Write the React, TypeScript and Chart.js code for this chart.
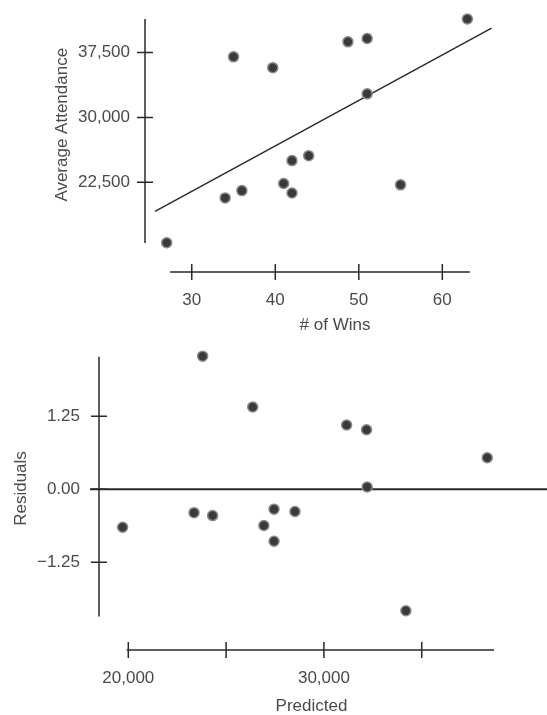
import React, { useEffect, useRef } from 'react';
import { Chart, registerables } from 'chart.js';

Chart.register(...registerables);

// ---- Top chart: Average Attendance vs # of Wins ----
const winsX = [27, 35, 34, 36, 39.7, 41, 42, 42, 44, 48.7, 51, 51, 55, 63];
const attendanceY = [15490, 37010, 20680, 21520, 35760, 22350, 25000, 21250, 25570, 38750, 39130, 32730, 22190, 41400];
const fitLineX = [25.6, 65.9];
const fitLineY = [19125, 40341];
const attendanceTicks = [22500, 30000, 37500];
const attendanceTickLabels = ['22,500', '30,000', '37,500'];
const winsTicks = [30, 40, 50, 60];
const winsTickLabels = ['30', '40', '50', '60'];

// ---- Bottom chart: Residuals vs Predicted ----
const predictedX = [23800, 26360, 31160, 32180, 38350, 32210, 19710, 23360, 24310, 26930, 27450, 27450, 28520, 34190];
const residualY = [2.28, 1.41, 1.1, 1.02, 0.54, 0.04, -0.65, -0.4, -0.45, -0.62, -0.34, -0.89, -0.38, -2.08];
const residualTicks = [-1.25, 0, 1.25];
const residualTickLabels = ['\u22121.25', '0.00', '1.25'];
const predictedTicks = [20000, 25000, 30000, 35000];
const predictedTickLabels = ['20,000', '', '30,000', ''];

const FONT = { family: "'Liberation Sans', Arial, sans-serif", size: 17 };
const TEXT = '#4a4a4a';
const INK = '#2a2a2a';

const detachedAxes = {
  id: 'detachedAxes',
  beforeDatasetsDraw(chart: any, _args: any, opts: any) {
    const { ctx, chartArea, scales } = chart;
    const x = scales.x;
    const y = scales.y;
    ctx.save();
    ctx.strokeStyle = INK;
    ctx.lineWidth = 1.5;
    ctx.beginPath();
    const ax = chartArea.left;
    ctx.moveTo(ax, y.getPixelForValue(opts.yFrom));
    ctx.lineTo(ax, y.getPixelForValue(opts.yTo));
    y.ticks.forEach((t: any) => {
      const py = y.getPixelForValue(t.value);
      ctx.moveTo(ax - 8, py);
      ctx.lineTo(ax + 8, py);
    });
    const ay = chartArea.bottom + opts.xGap;
    ctx.moveTo(x.getPixelForValue(opts.xFrom), ay);
    ctx.lineTo(x.getPixelForValue(opts.xTo), ay);
    x.ticks.forEach((t: any) => {
      const px = x.getPixelForValue(t.value);
      ctx.moveTo(px, ay - 8);
      ctx.lineTo(px, ay + 8);
    });
    ctx.stroke();
    if (opts.zeroLine) {
      const pz = y.getPixelForValue(0);
      ctx.beginPath();
      ctx.lineWidth = 2;
      ctx.moveTo(ax - 9, pz);
      ctx.lineTo(chart.width, pz);
      ctx.stroke();
    }
    ctx.restore();
  },
};

const pointStyle = {
  backgroundColor: '#3a3a3a',
  borderColor: '#8a8a8a',
  borderWidth: 1.5,
  pointRadius: 5,
  pointHoverRadius: 5,
};

function axisCommon(ticks: number[], labels: string[], padding: number, title: string, titlePadding: any, size: { w?: number; h?: number }) {
  return {
    type: 'linear' as const,
    afterBuildTicks: (s: any) => {
      s.ticks = ticks.map((v) => ({ value: v }));
    },
    afterFit: (s: any) => {
      if (size.w !== undefined) s.width = size.w;
      if (size.h !== undefined) s.height = size.h;
      s.paddingTop = 0;
      s.paddingBottom = 0;
      s.paddingLeft = 0;
      s.paddingRight = 0;
    },
    ticks: {
      callback: (_v: any, i: number) => labels[i],
      padding,
      font: FONT,
      color: TEXT,
      maxRotation: 0,
      minRotation: 0,
      autoSkip: false,
    },
    grid: { display: false, drawTicks: false },
    border: { display: false },
    title: { display: true, text: title, font: FONT, color: TEXT, padding: titlePadding },
  };
}

function TopChart() {
  const ref = useRef<HTMLCanvasElement>(null);
  useEffect(() => {
    const chart = new Chart(ref.current as HTMLCanvasElement, {
      type: 'scatter',
      data: {
        datasets: [
          {
            data: winsX.map((w, i) => ({ x: w, y: attendanceY[i] })),
            ...pointStyle,
            clip: false,
          } as any,
          {
            type: 'line',
            data: fitLineX.map((w, i) => ({ x: w, y: fitLineY[i] })),
            showLine: true,
            borderColor: INK,
            borderWidth: 1.5,
            pointRadius: 0,
            fill: false,
          } as any,
        ],
      },
      options: {
        animation: false,
        responsive: false,
        devicePixelRatio: 1,
        events: [],
        layout: { padding: { left: 48, right: 22, top: 2, bottom: 0 } },
        plugins: {
          legend: { display: false },
          tooltip: { enabled: false },
          detachedAxes: { yFrom: 41400, yTo: 15455, xFrom: 27.4, xTo: 63.3, xGap: 29, zeroLine: false },
        } as any,
        scales: {
          x: {
            ...axisCommon(winsTicks, winsTickLabels, 47, '# of Wins', { top: 4, bottom: 4 }, { h: 97 }),
            min: 24.4,
            max: 69.9,
          },
          y: {
            ...axisCommon(attendanceTicks, attendanceTickLabels, 15, 'Average Attendance', { top: 4, bottom: 4 }, { w: 97 }),
            min: 15455,
            max: 42841,
          },
        } as any,
      },
      plugins: [detachedAxes],
    });
    return () => chart.destroy();
  }, []);
  return (
    <canvas ref={ref} width={547} height={340} style={{ position: 'absolute', left: 0, top: 0, width: 547, height: 340 }} />
  );
}

function BottomChart() {
  const ref = useRef<HTMLCanvasElement>(null);
  useEffect(() => {
    const chart = new Chart(ref.current as HTMLCanvasElement, {
      type: 'scatter',
      data: {
        datasets: [
          {
            data: predictedX.map((p, i) => ({ x: p, y: residualY[i] })),
            ...pointStyle,
            clip: false,
          } as any,
        ],
      },
      options: {
        animation: false,
        responsive: false,
        devicePixelRatio: 1,
        events: [],
        layout: { padding: { left: 7, right: 23, top: 10, bottom: 0 } },
        plugins: {
          legend: { display: false },
          tooltip: { enabled: false },
          detachedAxes: { yFrom: 2.27, yTo: -2.18, xFrom: 19918, xTo: 38695, xGap: 23, zeroLine: true },
        } as any,
        scales: {
          x: {
            ...axisCommon(predictedTicks, predictedTickLabels, 41, 'Predicted', { top: 0, bottom: -2 }, { h: 88 }),
            min: 18502,
            max: 40228,
          },
          y: {
            ...axisCommon(residualTicks, residualTickLabels, 19, 'Residuals', { top: 4, bottom: 4 }, { w: 92 }),
            min: -2.358,
            max: 2.385,
          },
        } as any,
      },
      plugins: [detachedAxes],
    });
    return () => chart.destroy();
  }, []);
  return (
    <canvas ref={ref} width={547} height={375} style={{ position: 'absolute', left: 0, top: 340, width: 547, height: 375 }} />
  );
}

export default function App() {
  return (
    <div style={{ position: 'absolute', left: 0, top: 0, width: 547, height: 715, overflow: 'hidden', background: '#ffffff' }}>
      <TopChart />
      <BottomChart />
    </div>
  );
}
